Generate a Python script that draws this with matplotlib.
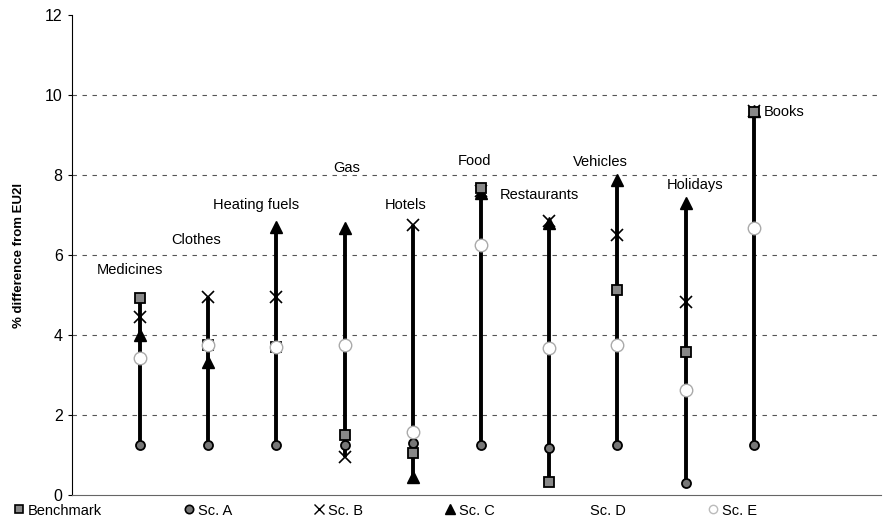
import numpy as np
import matplotlib
matplotlib.use("Agg")
import matplotlib.pyplot as plt
from matplotlib.lines import Line2D

plt.rcParams['font.family'] = ['Liberation Sans', 'DejaVu Sans']

# data
categories = ["Medicines", "Clothes", "Heating fuels", "Gas", "Hotels",
              "Food", "Restaurants", "Vehicles", "Holidays", "Books"]
benchmark = [4.93, 3.75, 3.70, 1.50, 1.05, 7.68, 0.33, 5.12, 3.58, 9.57]
sc_a = [1.25, 1.25, 1.25, 1.25, 1.30, 1.25, 1.18, 1.25, 0.30, 1.25]
sc_b = [4.45, 4.95, 4.95, 0.95, 6.75, 7.60, 6.85, 6.50, 4.83, 9.60]
sc_c = [4.00, 3.33, 6.70, 6.68, 0.45, 7.55, 6.80, 7.88, 7.30, 9.60]
sc_e = [3.42, 3.75, 3.70, 3.75, 1.58, 6.25, 3.67, 3.75, 2.62, 6.68]

# label placement (layout only)
label_dx = [-0.14, -0.18, -0.30, 0.03, -0.10, -0.09, -0.15, -0.25, 0.14, 0.15]
label_y = [5.62, 6.37, 7.25, 8.17, 7.25, 8.35, 7.50, 8.33, 7.75, 9.57]

x = np.arange(1, len(categories) + 1)
allv = np.vstack([benchmark, sc_a, sc_b, sc_c, sc_e])
lo = allv.min(axis=0)
hi = allv.max(axis=0)

fig = plt.figure(figsize=(8.85, 5.18), dpi=100)
ax = fig.add_axes([0.081, 0.044, 0.915, 0.927])

for v in [2, 4, 6, 8, 10]:
    ax.axhline(v, color="#555555", lw=0.8, ls=(0, (4, 5)), zorder=0)

ax.vlines(x, lo, hi, color="black", lw=2.8, zorder=2)

ax.plot(x, sc_a, ls="none", marker="o", ms=6.5, mfc="#777777", mec="black",
        mew=1.3, zorder=4)
ax.plot(x, sc_b, ls="none", marker="x", ms=8, mec="black", mew=1.2, zorder=4)
ax.plot(x, sc_c, ls="none", marker="^", ms=8, mfc="black", mec="black", zorder=4)
ax.plot(x, benchmark, ls="none", marker="s", ms=6.5, mfc="#888888",
        mec="black", mew=1.3, zorder=5)
ax.plot(x, sc_e, ls="none", marker="o", ms=9, mfc="white", mec="#aaaaaa",
        mew=1.0, zorder=6)

for i, name in enumerate(categories):
    ha = "left" if i == len(categories) - 1 else "center"
    ax.text(x[i] + label_dx[i], label_y[i], name, ha=ha, va="center",
            fontsize=10.5)

ax.set_xlim(0, 11.87)
ax.set_ylim(0, 12)
ax.set_yticks(np.arange(0, 13, 2))
ax.tick_params(axis="y", labelsize=11.5, length=3, width=0.8)
ax.set_xticks([])
for s in ["top", "right"]:
    ax.spines[s].set_visible(False)
ax.spines["bottom"].set_color("#666666")
ax.spines["bottom"].set_linewidth(0.8)
ax.set_ylabel("% difference from EU2I", fontsize=9.5, fontweight="bold",
              labelpad=14)

handles = [
    Line2D([], [], ls="none", marker="s", ms=6, mfc="#888888", mec="black", mew=1.2),
    Line2D([], [], ls="none", marker="o", ms=6, mfc="#777777", mec="black", mew=1.2),
    Line2D([], [], ls="none", marker="x", ms=7, mec="black", mew=1.0),
    Line2D([], [], ls="none", marker="^", ms=7, mfc="black", mec="black"),
    Line2D([], [], ls="none", marker="none"),
    Line2D([], [], ls="none", marker="o", ms=6, mfc="white", mec="#bbbbbb"),
]
labels = ["Benchmark", "Sc. A", "Sc. B", "Sc. C", "Sc. D", "Sc. E"]
fig.legend(handles, labels, ncol=6, loc="lower left",
           bbox_to_anchor=(0.005, -0.016, 0.86, 0.04), mode="expand",
           frameon=False, fontsize=10.5, handlelength=0.8, handletextpad=0.2,
           borderpad=0.1)

fig.savefig("out.png", dpi=100)
